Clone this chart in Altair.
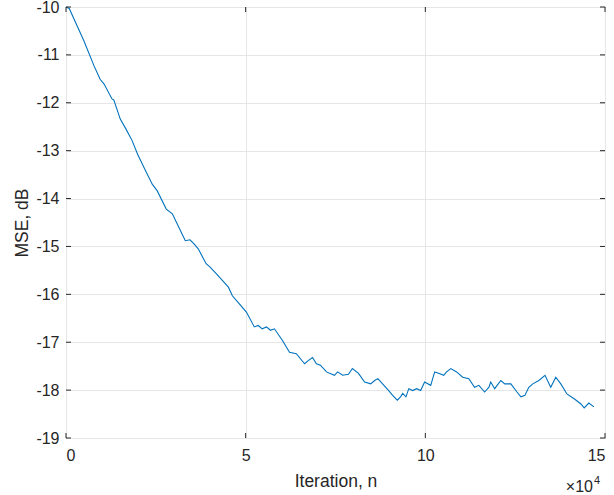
import altair as alt
import pandas as pd

# Iteration (x 10^4) and MSE in dB
iters = [0.0, 0.09, 0.33, 0.5, 0.78, 0.95, 1.06, 1.28, 1.33, 1.51, 1.67, 1.84, 1.99, 2.17,
         2.40, 2.54, 2.79, 2.96, 3.12, 3.32, 3.45, 3.57, 3.68, 3.90, 4.01, 4.18, 4.35,
         4.52, 4.63, 4.80, 5.02, 5.24, 5.35, 5.46, 5.58, 5.69, 5.80, 6.02, 6.22, 6.41,
         6.64, 6.75, 6.86, 6.97, 7.08, 7.25, 7.47, 7.56, 7.70, 7.86, 7.97, 8.14, 8.31,
         8.48, 8.59, 8.68, 8.81, 8.98, 9.09, 9.22, 9.31, 9.37, 9.46, 9.54, 9.65, 9.76,
         9.87, 9.98, 10.15, 10.26, 10.37, 10.51, 10.59, 10.71, 10.87, 11.04, 11.21,
         11.37, 11.49, 11.65, 11.77, 11.82, 11.93, 12.10, 12.21, 12.38, 12.55, 12.66,
         12.77, 12.88, 12.99, 13.16, 13.33, 13.49, 13.63, 13.77, 13.94, 14.16, 14.33,
         14.42, 14.55, 14.69]
mse_db = [-10.0, -10.03, -10.43, -10.71, -11.23, -11.51, -11.61, -11.92, -11.94, -12.34,
          -12.55, -12.79, -13.07, -13.35, -13.70, -13.84, -14.22, -14.32, -14.57, -14.88,
          -14.86, -14.95, -15.05, -15.36, -15.43, -15.57, -15.71, -15.85, -16.03, -16.18,
          -16.37, -16.68, -16.65, -16.72, -16.68, -16.75, -16.72, -16.96, -17.21, -17.24,
          -17.45, -17.38, -17.32, -17.45, -17.48, -17.62, -17.69, -17.62, -17.69, -17.67,
          -17.55, -17.65, -17.83, -17.87, -17.80, -17.76, -17.87, -18.01, -18.11, -18.21,
          -18.14, -18.07, -18.14, -17.97, -18.01, -17.97, -18.01, -17.83, -17.90, -17.62,
          -17.65, -17.69, -17.62, -17.55, -17.62, -17.73, -17.76, -17.94, -17.90, -18.04,
          -17.94, -17.83, -17.97, -17.80, -17.87, -17.87, -18.04, -18.14, -18.11, -17.94,
          -17.87, -17.80, -17.69, -17.94, -17.73, -17.87, -18.08, -18.19, -18.29, -18.37,
          -18.27, -18.35]

x_ticks = [0, 5, 10, 15]
y_ticks = [-19, -18, -17, -16, -15, -14, -13, -12, -11, -10]

W, H = 539, 431
FONT = "Liberation Sans"
DARK = "#262626"

df = pd.DataFrame({"n": iters, "mse": mse_db})
xs = alt.Scale(domain=[0, 15], nice=False, zero=False)
ys = alt.Scale(domain=[-19, -10], nice=False, zero=False)

line = alt.Chart(df).mark_line(color="#0072BD", strokeWidth=1.1).encode(
    x=alt.X("n:Q", scale=xs,
            axis=alt.Axis(values=x_ticks, title="Iteration, n", grid=True,
                          ticks=False, domain=False, labelPadding=9, titlePadding=9,
                          labelExpr="'' + datum.value")),
    y=alt.Y("mse:Q", scale=ys,
            axis=alt.Axis(values=y_ticks, title="MSE, dB", grid=True,
                          ticks=False, domain=False, labelPadding=7, titlePadding=4,
                          labelExpr="'' + datum.value")),
)

xt = pd.DataFrame({"xt": x_ticks})
yt = pd.DataFrame({"yt": y_ticks})

xb = alt.Chart(xt).mark_rule(color=DARK, strokeWidth=1).encode(
    x=alt.X("xt:Q", scale=xs), y=alt.value(H), y2=alt.value(H - 5))
xtop = alt.Chart(xt).mark_rule(color=DARK, strokeWidth=1).encode(
    x=alt.X("xt:Q", scale=xs), y=alt.value(0), y2=alt.value(5))
yl = alt.Chart(yt).mark_rule(color=DARK, strokeWidth=1).encode(
    y=alt.Y("yt:Q", scale=ys), x=alt.value(0), x2=alt.value(5))
yr = alt.Chart(yt).mark_rule(color=DARK, strokeWidth=1).encode(
    y=alt.Y("yt:Q", scale=ys), x=alt.value(W - 5), x2=alt.value(W))

exp_base = alt.Chart(pd.DataFrame({"t": ["×10"]})).mark_text(
    align="right", baseline="alphabetic", font=FONT, fontSize=16, color=DARK
).encode(text="t:N", x=alt.value(W - 12), y=alt.value(H + 54))
exp_sup = alt.Chart(pd.DataFrame({"t": ["4"]})).mark_text(
    align="left", baseline="alphabetic", font=FONT, fontSize=11, color=DARK
).encode(text="t:N", x=alt.value(W - 11), y=alt.value(H + 46))

chart = alt.layer(line, xb, xtop, yl, yr, exp_base, exp_sup).properties(
    width=W, height=H,
    autosize=alt.AutoSizeParams(type="none"),
    padding={"left": 66, "top": 7, "right": 9, "bottom": 57},
    background="white",
).configure_view(
    stroke=DARK, strokeWidth=1
).configure_axis(
    labelFont=FONT, titleFont=FONT, labelFontSize=16, titleFontSize=17.5,
    labelColor=DARK, titleColor=DARK, titleFontWeight="normal",
    gridColor="#e6e6e6", gridWidth=1, gridOpacity=1,
)

chart.save("out.html", embed_options={"renderer": "svg", "actions": False})
